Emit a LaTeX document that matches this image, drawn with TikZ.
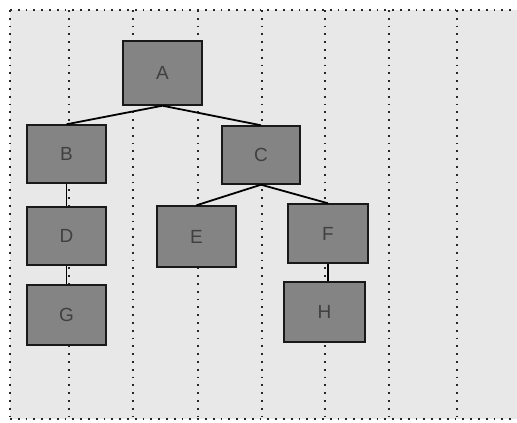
\documentclass[tikz,border=0pt]{standalone}
\usepackage{fontspec}
\setmainfont{Liberation Sans}
\begin{document}
\begin{tikzpicture}[x=1pt,y=-1pt,
  box/.style={draw=black!90, line width=1.4pt, fill={rgb,255:red,132;green,132;blue,132}, inner sep=0pt, font=\fontsize{19}{19}\selectfont, text=black!75},
  link/.style={draw=black, line width=1.8pt},
  grid/.style={draw=black!85, line width=1.8pt, dash pattern=on 1.8pt off 6pt}]
\useasboundingbox (0,0) rectangle (517,423);
\fill[white] (0,0) rectangle (517,423);
\fill[black!9] (10,10) rectangle (517,419);
% grid lines
\foreach \x in {10,69,133,198,262,325,389,457} \draw[grid] (\x,10) -- (\x,419);
\draw[grid] (10,10) -- (517,10);
\draw[grid] (10,419) -- (517,419);
% nodes
\node[box, minimum width=79pt, minimum height=64pt] (A) at (162.5,73) {A};
\node[box, minimum width=79pt, minimum height=58pt] (B) at (66.5,154) {B};
\node[box, minimum width=78pt, minimum height=58pt] (C) at (261,155) {C};
\node[box, minimum width=79pt, minimum height=58pt] (D) at (66.5,236) {D};
\node[box, minimum width=79pt, minimum height=61pt] (E) at (196.5,236.5) {E};
\node[box, minimum width=80pt, minimum height=59pt] (F) at (328,233.5) {F};
\node[box, minimum width=79pt, minimum height=60pt] (G) at (66.5,315) {G};
\node[box, minimum width=81pt, minimum height=60pt] (H) at (324.5,312) {H};
% connectors
\draw[link] (A.south) -- (B.north);
\draw[link] (A.south) -- (C.north);
\draw[link] (B.south) -- (D.north);
\draw[link] (D.south) -- (D.south |- G.north);
\draw[link] (C.south) -- (E.north);
\draw[link] (C.south) -- (F.north);
\draw[link] (F.south) -- (F.south |- H.north);
\end{tikzpicture}
\end{document}
